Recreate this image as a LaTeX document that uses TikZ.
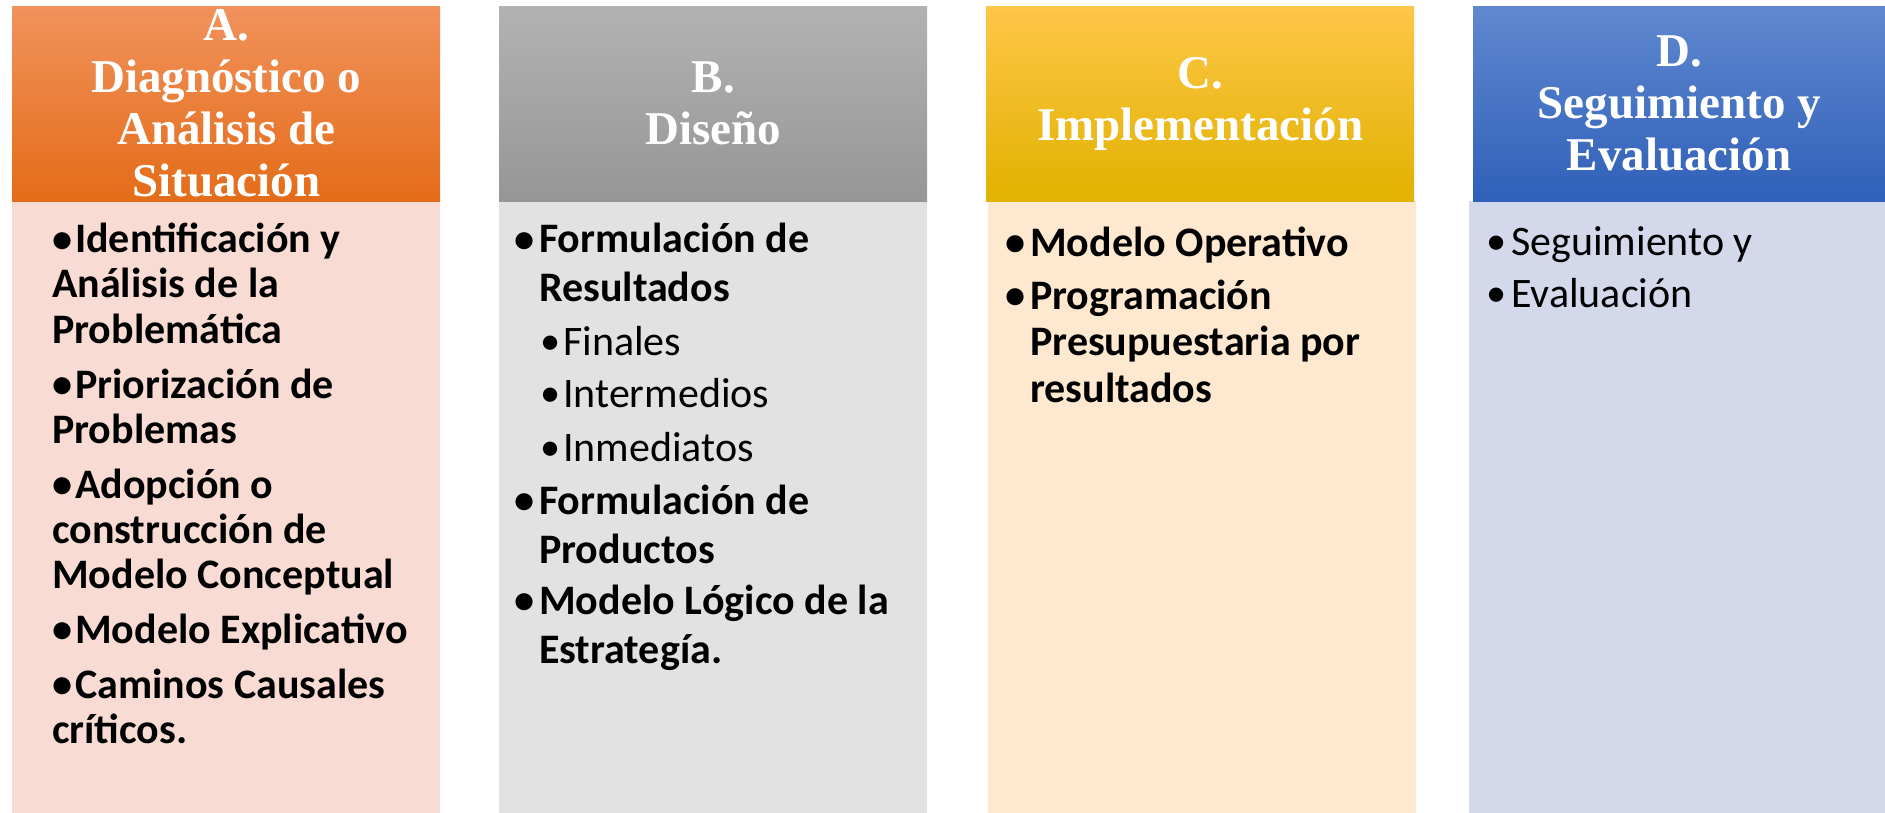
\documentclass[tikz,border=0pt]{standalone}
\usepackage{fontspec}
\setmainfont{Liberation Serif}
\newfontfamily\bodyfont{Carlito}
\usepackage{graphicx}
\usepackage{tikz}
\usetikzlibrary{positioning}
\usepackage{xcolor}
\definecolor{orgtop}{RGB}{241,146,92}
\definecolor{orgmid}{RGB}{244,125,40}
\definecolor{orgbot}{RGB}{228,108,24}
\definecolor{graytop}{RGB}{178,178,178}
\definecolor{graybot}{RGB}{150,150,150}
\definecolor{goldtop}{RGB}{255,198,72}
\definecolor{goldmid}{RGB}{255,192,0}
\definecolor{goldbot}{RGB}{224,178,0}
\definecolor{bluetop}{RGB}{96,136,208}
\definecolor{bluebot}{RGB}{47,96,184}
\definecolor{pinkbg}{RGB}{248,219,211}
\definecolor{graybg}{RGB}{226,226,226}
\definecolor{peachbg}{RGB}{254,232,208}
\definecolor{lilacbg}{RGB}{211,216,235}
\newcommand{\bdot}{\raisebox{0.5pt}{\scalebox{0.96}{\textbullet}}}
\newcommand{\bulA}{\hspace*{0pt}\makebox[23pt][l]{\bdot}}
\newcommand{\bul}[1]{\llap{\makebox[#1][l]{\bdot}}}
% lines of one item, first baseline on the node's base
\newcommand{\lns}[1]{\begin{tabular}[t]{@{}l@{}}#1\end{tabular}}

\begin{document}
\begin{tikzpicture}[x=1pt,y=-1pt,
    head/.style={minimum width=428pt,minimum height=195pt,inner sep=0pt,anchor=north west,align=center,text=white,font=\fontsize{47}{52}\selectfont\bfseries},
    body/.style={minimum width=428pt,minimum height=612pt,inner sep=0pt,anchor=north west},
    itm/.style={anchor=base west,inner sep=0pt,font=\bodyfont\bfseries\fontsize{42}{49}\selectfont},
    itmA/.style={itm,font=\bodyfont\bfseries\fontsize{42}{45}\selectfont},
    subitm/.style={itm,font=\bodyfont\fontsize{42}{49}\selectfont}
]
\useasboundingbox (0,0) rectangle (1885,813);
% column bodies
\node[body,fill=pinkbg] (bodyA) at (12,201) {};
\node[body,fill=graybg] (bodyB) at (499,201) {};
\node[body,fill=peachbg] (bodyC) at (988,201) {};
\node[body,fill=lilacbg,minimum width=416pt] (bodyD) at (1469,201) {};
% headers
\node[head,top color=orgtop,middle color=orgmid,bottom color=orgbot] (hdrA) at (12,6) {A.\\Diagnóstico o\\Análisis de\\Situación};
\node[head,top color=graytop,bottom color=graybot] (hdrB) at (499,6) {B.\\Diseño};
\node[head,top color=goldtop,middle color=goldmid,bottom color=goldbot] (hdrC) at (986,6) {C.\\Implementación};
\node[head,top color=bluetop,bottom color=bluebot,minimum width=412pt] (hdrD) at (1473,6) {D.\\Seguimiento y\\Evaluación};
% A. items
\node[itmA] (a1) at (52,253) {\lns{\bulA Identificación y\\Análisis de la\\Problemática}};
\node[itmA] (a2) at (52,398) {\lns{\bulA Priorización de\\Problemas}};
\node[itmA] (a3) at (52,498) {\lns{\bulA Adopción o\\construcción de\\Modelo Conceptual}};
\node[itmA] (a4) at (52,643) {\lns{\bulA Modelo Explicativo}};
\node[itmA] (a5) at (52,698) {\lns{\bulA Caminos Causales\\críticos.}};
% B. items
\node[itm] (b1) at (539,253) {\lns{\bul{25pt}Formulación de\\Resultados}};
\node[subitm] (b2) at (563,355) {\bul{23pt}Finales};
\node[subitm] (b3) at (563,407) {\bul{23pt}Intermedios};
\node[subitm] (b4) at (563,461) {\bul{23pt}Inmediatos};
\node[itm] (b5) at (539,514) {\lns{\bul{25pt}Formulación de\\Productos}};
\node[itm] (b6) at (539,614) {\lns{\bul{25pt}Modelo Lógico de la\\Estrategía.}};
% C. items
\node[itm] (c1) at (1030,256) {\bul{25pt}Modelo Operativo};
\node[itm,font=\bodyfont\bfseries\fontsize{42}{46.7}\selectfont] (c2) at (1030,309) {\lns{\bul{25pt}Programación\\Presupuestaria por\\resultados}};
% D. items
\node[subitm] (d1) at (1511,255) {\bul{25pt}Seguimiento y};
\node[subitm] (d2) at (1511,307) {\bul{25pt}Evaluación};
\end{tikzpicture}
\end{document}
